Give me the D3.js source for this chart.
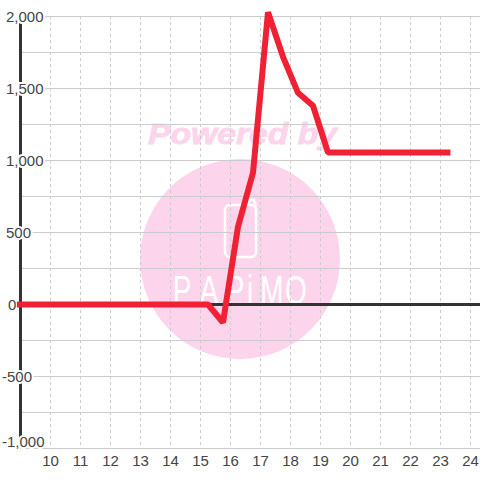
<!DOCTYPE html>
<html>
<head>
<meta charset="utf-8">
<script src="https://cdn.jsdelivr.net/npm/d3@7"></script>
<style>
html, body { margin: 0; padding: 0; background: #fff; }
svg { display: block; }
text { font-family: "Liberation Sans", Arial, sans-serif; }
</style>
</head>
<body>
<svg id="chart" width="480" height="480"></svg>
<script>
var hours = [8.88, 9.25, 10.25, 11.25, 12.25, 13.25, 14.25, 15.25, 15.75, 16.25, 16.75, 17.25, 17.75, 18.25, 18.75, 19.25, 20.25, 21.25, 22.25, 23.33]
var values = [0, 0, 0, 0, 0, 0, 0, 0, -125, 540, 915, 2030, 1720, 1470, 1380, 1055, 1055, 1055, 1055, 1055]
var x_ticks = [10, 11, 12, 13, 14, 15, 16, 17, 18, 19, 20, 21, 22, 23, 24]
var y_major = [2000, 1500, 1000, 500, 0, -500, -1000]
var y_minor = [1750, 1250, 750, 250, -250, -750]
var watermark_top = "Powered by"
var watermark_logo = ["P", "A", "P", "i", "M", "O"]
var logo_x = [182, 209, 235, 250, 272, 296]

var x_scale = d3.scaleLinear().domain([10, 24]).range([50.5, 470.5]),
    y_scale = d3.scaleLinear().domain([-1000, 2000]).range([448.5, 16.5])

var grid_color = "#cccccc", axis_color = "#333333", label_color = "#444444", pink = "#fcd5ec"
var svg = d3.select("#chart")

// watermark, sits under the grid
var mark = svg.append("g")
mark.append("circle")
  .attr("cx", 240).attr("cy", 259).attr("r", 100)
  .style("fill", pink)
mark.append("text")
  .attr("x", 148).attr("y", 144)
  .attr("textLength", 189)
  .attr("lengthAdjust", "spacingAndGlyphs")
  .style("font-size", "29px")
  .style("font-weight", "bold")
  .style("font-style", "italic")
  .style("fill", pink)
  .style("stroke", pink)
  .style("stroke-width", 0.8)
  .text(watermark_top)
mark.append("rect")
  .attr("x", 225).attr("y", 205).attr("width", 31).attr("height", 52).attr("rx", 5)
  .style("fill", "none")
  .style("stroke", "#fff")
  .style("stroke-width", 2.5)
mark.append("path")
  .attr("d", "M247,205 L250,200 L254,200 L256,206")
  .style("fill", "none")
  .style("stroke", "#fff")
  .style("stroke-width", 2.5)
mark.selectAll(".logo_letter")
  .data(watermark_logo)
  .enter()
  .append("text")
  .attr("class", "logo_letter")
  .attr("text-anchor", "middle")
  .attr("transform", (d,i)=>"translate(" + logo_x[i] + ",304) scale(0.7,1)")
  .style("font-size", "40px")
  .style("fill", "#fff")
  .text(d=>d)

// grid
svg.selectAll(".grid_h")
  .data(y_major.concat(y_minor))
  .enter()
  .append("line")
  .attr("class", "grid_h")
  .attr("x1", 20).attr("x2", 480)
  .attr("y1", d=>y_scale(d)).attr("y2", d=>y_scale(d))
  .style("stroke", grid_color)

svg.selectAll(".grid_v")
  .data(x_ticks)
  .enter()
  .append("line")
  .attr("class", "grid_v")
  .attr("x1", d=>x_scale(d)).attr("x2", d=>x_scale(d))
  .attr("y1", 16).attr("y2", 448)
  .style("stroke", grid_color)
  .style("stroke-dasharray", "3,3")

// axis lines
svg.append("line")
  .attr("x1", 20.5).attr("x2", 20.5)
  .attr("y1", 16).attr("y2", 448)
  .style("stroke", axis_color)
  .style("stroke-width", 3)
svg.append("line")
  .attr("x1", 20).attr("x2", 480)
  .attr("y1", y_scale(0)).attr("y2", y_scale(0))
  .style("stroke", axis_color)
  .style("stroke-width", 3)

// tick labels with a white halo over the axis, they start from the left edge
// the lowest one is pushed up a bit
svg.selectAll(".y_label")
  .data(y_major)
  .enter()
  .append("text")
  .attr("class", "y_label")
  .attr("x", d=>d < 0 ? 2 : d == 0 ? 8 : 6)
  .attr("y", d=>y_scale(d) + (d == -1000 ? -1.5 : 5.5))
  .style("font-size", "15px")
  .style("fill", label_color)
  .style("stroke", "#fff")
  .style("stroke-width", d=>d == 0 ? 0 : 4)
  .style("paint-order", "stroke")
  .text(d=>d3.format(",")(d).replace("\u2212", "-"))

svg.selectAll(".x_label")
  .data(x_ticks)
  .enter()
  .append("text")
  .attr("class", "x_label")
  .attr("x", d=>x_scale(d))
  .attr("y", 466)
  .attr("text-anchor", "middle")
  .style("font-size", "15px")
  .style("fill", label_color)
  .text(d=>d)

// series
var line = d3.line().x((d,i)=>x_scale(hours[i])).y(d=>y_scale(d))
svg.append("path")
  .datum(values)
  .attr("d", line)
  .style("fill", "none")
  .style("stroke", "#f02035")
  .style("stroke-width", 6)
  .style("stroke-linejoin", "bevel")
</script>
</body>
</html>
